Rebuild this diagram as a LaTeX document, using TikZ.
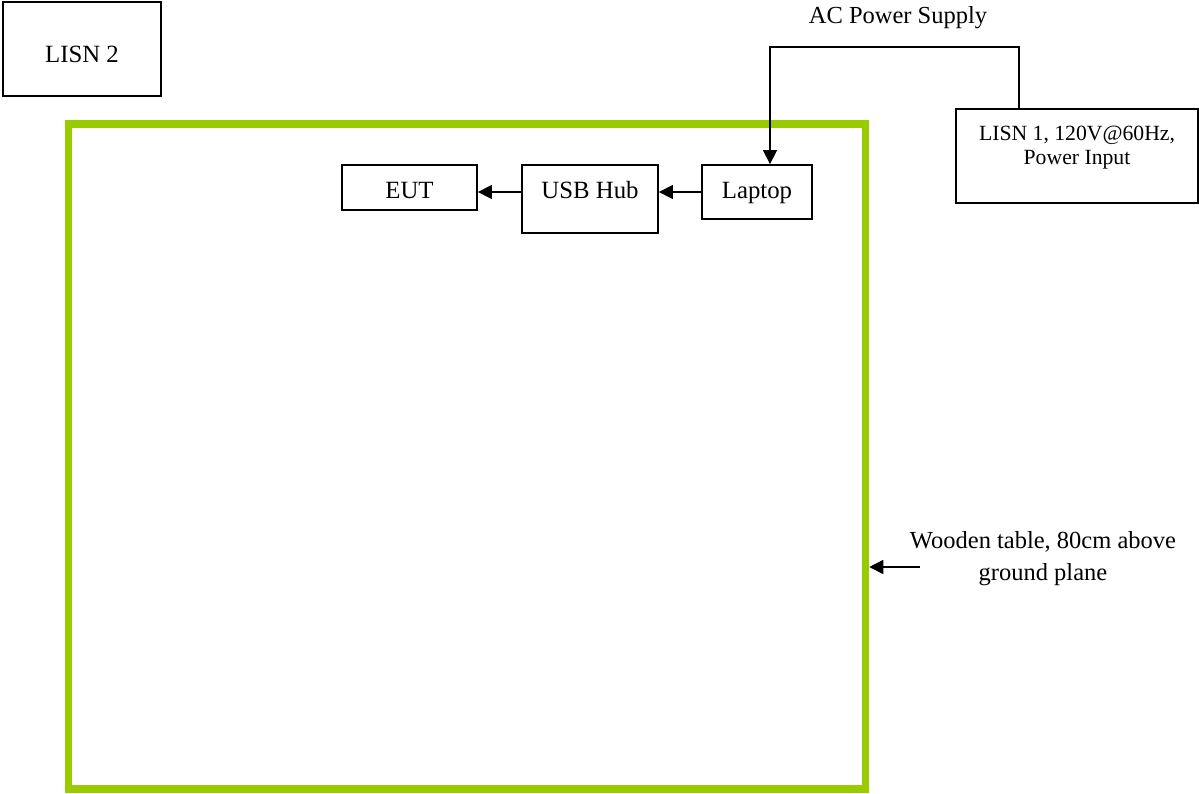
\documentclass[tikz,border=0pt]{standalone}
\usepackage{fontspec}
\setmainfont{Liberation Serif}
\usetikzlibrary{arrows.meta,calc}
\definecolor{tablegreen}{HTML}{99CC00}
\begin{document}
\begin{tikzpicture}[x=1pt,y=-1pt,
  box/.style={draw,line width=1.8pt,inner sep=0pt,anchor=base,font=\fontsize{24.8}{28}\selectfont},
  conn/.style={line width=1.5pt,-{Triangle[length=14pt,width=14pt]}},
  lbl/.style={inner sep=0pt,font=\fontsize{24.5}{32}\selectfont,align=center}]
\useasboundingbox (0,0) rectangle (1199,793);
% table
\node[draw=tablegreen,line width=7.5pt,minimum width=797pt,minimum height=665pt,inner sep=0pt] (table) at (467,456.5) {};
% boxes
\node[box,minimum width=158pt,text height=60pt,text depth=34pt] (lisn2) at (82,62) {LISN 2};
\node[box,minimum width=135pt,text height=33pt,text depth=12pt] (eut) at (409.5,198) {EUT};
\node[box,minimum width=136pt,text height=33pt,text depth=35pt] (usb) at (590,198) {USB Hub};
\node[box,minimum width=110pt,text height=33pt,text depth=21pt] (laptop) at (757,198) {Laptop};
\node[draw,line width=1.8pt,minimum width=242pt,minimum height=94pt,inner sep=0pt] (lisn1) at (1077,156) {};
\node[lbl,font=\fontsize{21.7}{24}\selectfont] (lisn1txt) at (1077,147.5) {LISN 1, 120V@60Hz,\\Power Input};
% labels
\node[lbl] (ac) at (898,18) {AC Power Supply};
\node[lbl] (wood) at (1043,559) {Wooden table, 80cm above\\ground plane};
% connectors
\coordinate (ac1) at (1019,47);
\coordinate (ac2) at (770,47);
\draw[conn] (lisn1.north -| ac1) -- (ac1) -- (ac2) -- (ac2 |- laptop.north);
\draw[conn] (laptop.west) -- (laptop.west -| usb.east);
\draw[conn] (usb.west |- laptop.west) -- (eut.east |- laptop.west);
\coordinate (wt) at (920,567);
\draw[conn] (wt) -- (wt -| table.east);
\end{tikzpicture}
\end{document}
